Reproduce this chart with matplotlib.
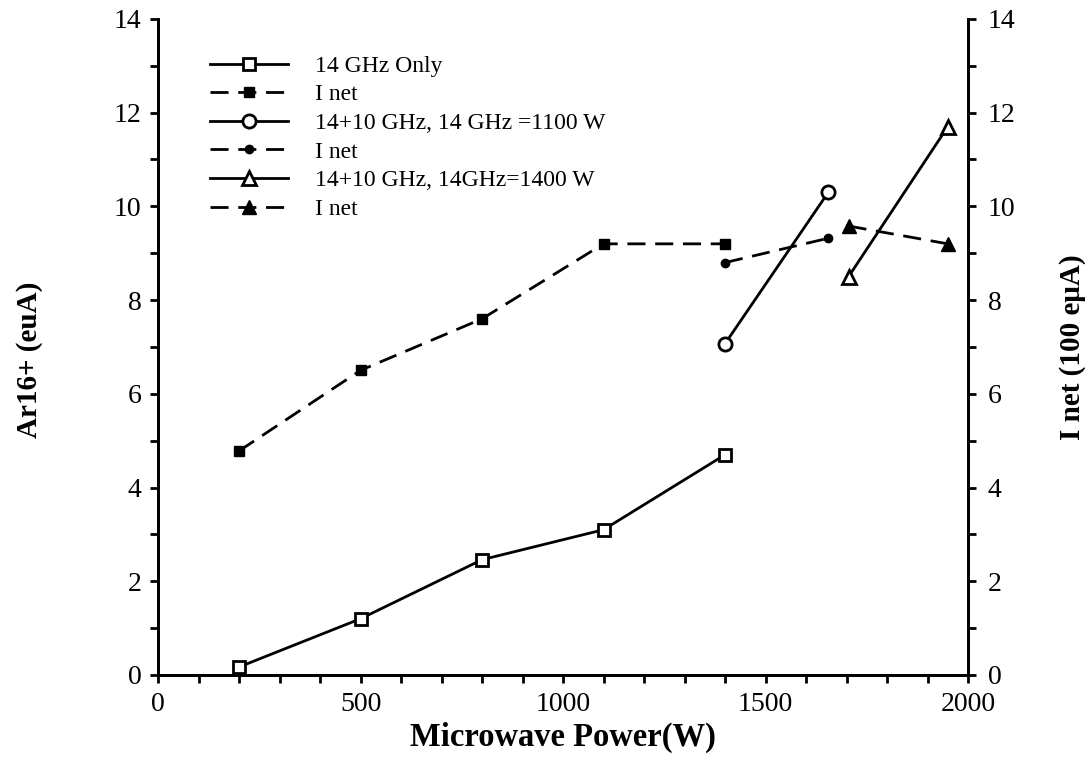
import numpy as np
import matplotlib
matplotlib.use("Agg")
import matplotlib.pyplot as plt
from matplotlib.ticker import MultipleLocator

plt.rcParams['font.family'] = ['Liberation Serif', 'DejaVu Serif']

# 14 GHz only
p14 = [200, 500, 800, 1100, 1400]
ar14 = [0.17, 1.2, 2.46, 3.1, 4.7]
inet14 = [4.78, 6.5, 7.6, 9.2, 9.2]

# 14+10 GHz, 14 GHz = 1100 W
p1100 = [1400, 1655]
ar1100 = [7.07, 10.3]
inet1100 = [8.8, 9.32]

# 14+10 GHz, 14 GHz = 1400 W
p1400 = [1705, 1950]
ar1400 = [8.5, 11.7]
inet1400 = [9.58, 9.2]

fig = plt.figure(figsize=(10.92, 7.62), dpi=100)
ax = fig.add_axes([0.1447, 0.1142, 0.7418, 0.861])
ax2 = ax.twinx()

lw = 2.0
dash = (6.5, 3.5)
h1, = ax.plot(p14, ar14, '-', color='k', lw=lw, marker='s', ms=9, mfc='white', mec='k', mew=2, label='14 GHz Only')
h2, = ax2.plot(p14, inet14, '--', color='k', lw=lw, dashes=dash, marker='s', ms=7, mfc='k', mec='k', label='I net')
h3, = ax.plot(p1100, ar1100, '-', color='k', lw=lw, marker='o', ms=9.5, mfc='white', mec='k', mew=2, label='14+10 GHz, 14 GHz =1100 W')
h4, = ax2.plot(p1100, inet1100, '--', color='k', lw=lw, dashes=dash, marker='o', ms=6, mfc='k', mec='k', label='I net')
h5, = ax.plot(p1400, ar1400, '-', color='k', lw=lw, marker='^', ms=10, mfc='white', mec='k', mew=2, label='14+10 GHz, 14GHz=1400 W')
h6, = ax2.plot(p1400, inet1400, '--', color='k', lw=lw, dashes=dash, marker='^', ms=10, mfc='k', mec='k', label='I net')

for a in (ax, ax2):
    a.set_xlim(0, 2000)
    a.set_ylim(0, 14)
    a.spines['top'].set_visible(False)
    for s in a.spines.values():
        s.set_linewidth(2)
    a.yaxis.set_major_locator(MultipleLocator(2))
    a.yaxis.set_minor_locator(MultipleLocator(1))
    a.tick_params(which='both', direction='out', width=2, length=6, labelsize=20, colors='k')

ax.xaxis.set_major_locator(MultipleLocator(500))
ax.xaxis.set_minor_locator(MultipleLocator(100))
ax.tick_params(axis='x', which='both', top=False, pad=6)
ax.tick_params(axis='y', which='both', pad=6)
ax2.tick_params(axis='y', which='both', pad=8)

ax.set_xlabel('Microwave Power(W)', fontsize=23.5, fontweight='bold', labelpad=4)
ax.set_ylabel('Ar16+ (euA)', fontsize=21, fontweight='bold')
ax.yaxis.set_label_coords(-0.142, 0.48)
ax2.set_ylabel('I net (100 e\u03bcA)', fontsize=21, fontweight='bold')
ax2.yaxis.set_label_coords(1.112, 0.5)

leg = ax2.legend(handles=[h1, h2, h3, h4, h5, h6], loc='upper left',
                 bbox_to_anchor=(0.0375, 0.977), frameon=False, fontsize=17,
                 handlelength=3.3, handletextpad=1.15, labelspacing=0.3)

fig.savefig('out.png', dpi=100)
